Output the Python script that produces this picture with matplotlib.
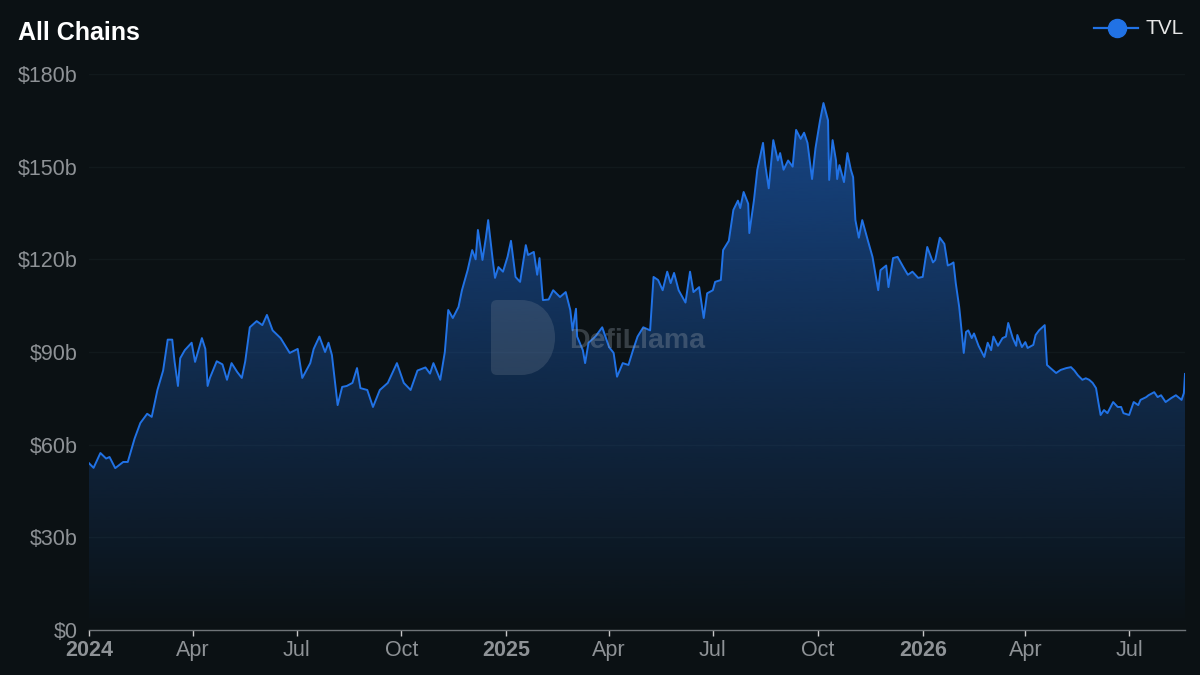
import numpy as np
import pandas as pd
import matplotlib
matplotlib.use('Agg')
import matplotlib.pyplot as plt
import matplotlib.dates as mdates
from matplotlib.path import Path
from matplotlib.patches import PathPatch
from matplotlib.lines import Line2D

# TVL of all chains (billions of USD)
dates = [
    '2024-01-01', '2024-01-05', '2024-01-11', '2024-01-16', '2024-01-19', '2024-01-24', '2024-01-31',
    '2024-02-04', '2024-02-10', '2024-02-15', '2024-02-21', '2024-02-25',
    '2024-03-01', '2024-03-06', '2024-03-10', '2024-03-14', '2024-03-16', '2024-03-19', '2024-03-21', '2024-03-25', '2024-03-31',
    '2024-04-03', '2024-04-09', '2024-04-12', '2024-04-14', '2024-04-16', '2024-04-22', '2024-04-27',
    '2024-05-01', '2024-05-05', '2024-05-10', '2024-05-14', '2024-05-17', '2024-05-21', '2024-05-27',
    '2024-06-01', '2024-06-05', '2024-06-10', '2024-06-17', '2024-06-25',
    '2024-07-02', '2024-07-06', '2024-07-13', '2024-07-16', '2024-07-21', '2024-07-26', '2024-07-29',
    '2024-08-01', '2024-08-06', '2024-08-10', '2024-08-14', '2024-08-19', '2024-08-23', '2024-08-26',
    '2024-09-01', '2024-09-06', '2024-09-12', '2024-09-19', '2024-09-27',
    '2024-10-03', '2024-10-09', '2024-10-15', '2024-10-22', '2024-10-26', '2024-10-29',
    '2024-11-04', '2024-11-08', '2024-11-11', '2024-11-15', '2024-11-20', '2024-11-23', '2024-11-28',
    '2024-12-02', '2024-12-05', '2024-12-07', '2024-12-11', '2024-12-14', '2024-12-16', '2024-12-20', '2024-12-22', '2024-12-25', '2024-12-29',
    '2025-01-02', '2025-01-05', '2025-01-09', '2025-01-13', '2025-01-18', '2025-01-20', '2025-01-25', '2025-01-28', '2025-01-30',
    '2025-02-02', '2025-02-07', '2025-02-11', '2025-02-17', '2025-02-22', '2025-02-26', '2025-02-28',
    '2025-03-03', '2025-03-04', '2025-03-09', '2025-03-11', '2025-03-14', '2025-03-20', '2025-03-26',
    '2025-04-01', '2025-04-05', '2025-04-08', '2025-04-13', '2025-04-18', '2025-04-22', '2025-04-26',
    '2025-05-01', '2025-05-07', '2025-05-10', '2025-05-14', '2025-05-18', '2025-05-22', '2025-05-25', '2025-05-28',
    '2025-06-01', '2025-06-07', '2025-06-11', '2025-06-14', '2025-06-19', '2025-06-23', '2025-06-26',
    '2025-07-01', '2025-07-03', '2025-07-08', '2025-07-10', '2025-07-15', '2025-07-19', '2025-07-23', '2025-07-25', '2025-07-28',
    '2025-08-01', '2025-08-02', '2025-08-06', '2025-08-09', '2025-08-14', '2025-08-16', '2025-08-19', '2025-08-23', '2025-08-27', '2025-08-29',
    '2025-09-01', '2025-09-05', '2025-09-09', '2025-09-12', '2025-09-16', '2025-09-19', '2025-09-22', '2025-09-26', '2025-09-29',
    '2025-10-03', '2025-10-06', '2025-10-10', '2025-10-11', '2025-10-14', '2025-10-17', '2025-10-18', '2025-10-20', '2025-10-24', '2025-10-27', '2025-10-30',
    '2025-11-01', '2025-11-03', '2025-11-06', '2025-11-09', '2025-11-14', '2025-11-18', '2025-11-23', '2025-11-25', '2025-11-30',
    '2025-12-02', '2025-12-06', '2025-12-10', '2025-12-15', '2025-12-19', '2025-12-23', '2025-12-28',
    '2026-01-01', '2026-01-05', '2026-01-10', '2026-01-12', '2026-01-16', '2026-01-20', '2026-01-23', '2026-01-26', '2026-01-28', '2026-01-30',
    '2026-02-02', '2026-02-03', '2026-02-06', '2026-02-08', '2026-02-10', '2026-02-13', '2026-02-15', '2026-02-19', '2026-02-24', '2026-02-27',
    '2026-03-02', '2026-03-04', '2026-03-08', '2026-03-12', '2026-03-15', '2026-03-17', '2026-03-21', '2026-03-24', '2026-03-25', '2026-03-29',
    '2026-04-01', '2026-04-03', '2026-04-08', '2026-04-10', '2026-04-13', '2026-04-16', '2026-04-18', '2026-04-20', '2026-04-23', '2026-04-28',
    '2026-05-02', '2026-05-07', '2026-05-11', '2026-05-14', '2026-05-17', '2026-05-21', '2026-05-24', '2026-05-27', '2026-05-30',
    '2026-06-02', '2026-06-04', '2026-06-06', '2026-06-09', '2026-06-12', '2026-06-17', '2026-06-21', '2026-06-24', '2026-06-26',
    '2026-07-01', '2026-07-05', '2026-07-09', '2026-07-11', '2026-07-16', '2026-07-18', '2026-07-23', '2026-07-26', '2026-07-29',
    '2026-08-02', '2026-08-07', '2026-08-11', '2026-08-16', '2026-08-18', '2026-08-19',
]

tvl = [
    54.0, 52.5, 57.3, 55.5, 56.0, 52.4, 54.4,
    54.4, 62.0, 67.0, 70.0, 69.0,
    77.7, 84.0, 94.0, 94.0, 87.0, 79.0, 88.0, 90.6, 93.0,
    86.8, 94.5, 91.0, 79.0, 81.6, 87.0, 86.0,
    81.0, 86.4, 83.5, 81.6, 87.0, 98.0, 100.0,
    98.7, 102.0, 97.0, 94.5, 89.7,
    91.0, 81.6, 86.4, 91.0, 95.0, 90.0, 93.0,
    89.0, 72.8, 78.7, 79.0, 80.0, 84.8, 78.3,
    77.7, 72.2, 77.7, 80.0, 86.4,
    80.0, 77.7, 84.0, 85.0, 83.0, 86.4,
    81.0, 90.0, 103.6, 101.0, 104.6, 110.0, 116.5,
    123.0, 120.0, 129.5, 119.8, 127.0, 132.7, 119.8, 114.0, 117.5, 116.0,
    120.8, 126.0, 114.3, 112.7, 124.6, 121.4, 122.4, 115.0, 120.4,
    106.8, 107.0, 110.0, 107.8, 109.4, 103.6, 97.0,
    104.0, 95.0, 90.6, 86.4, 93.0, 95.0, 98.0,
    91.6, 89.7, 82.0, 86.4, 85.8, 90.6, 95.0,
    98.0, 97.0, 114.3, 113.3, 110.0, 116.0, 112.3, 115.6,
    110.0, 106.0, 116.0, 109.4, 111.0, 101.0, 109.0,
    110.0, 112.7, 113.3, 123.0, 126.0, 136.0, 139.0, 136.6, 141.8,
    138.0, 128.5, 139.0, 149.0, 157.7, 150.5, 143.0, 158.6, 152.0, 154.4,
    149.0, 152.0, 150.0, 161.9, 159.0, 161.0, 157.7, 146.0, 156.0,
    165.0, 170.6, 165.0, 145.7, 158.6, 152.0, 146.0, 150.5, 145.0, 154.4, 149.0,
    146.6, 132.7, 127.0, 132.7, 126.0, 120.8, 110.0, 116.5, 118.0,
    111.0, 120.4, 120.8, 117.5, 115.0, 116.0, 114.0,
    114.3, 124.0, 119.0, 119.8, 127.0, 125.0, 118.0, 118.5, 119.0, 112.3,
    104.6, 101.0, 89.7, 96.5, 97.0, 94.5, 96.0, 92.0, 88.4, 93.0,
    90.6, 95.0, 92.0, 94.5, 95.0, 99.4, 94.5, 92.0, 95.5, 91.6,
    93.2, 91.3, 92.3, 95.5, 97.0, 98.0, 98.7, 85.8, 84.8, 83.2,
    84.2, 84.8, 85.1, 84.0, 82.5, 81.0, 81.5, 81.0, 80.0,
    78.3, 73.8, 69.6, 71.2, 70.2, 73.8, 72.2, 72.2, 70.2,
    69.6, 73.8, 72.8, 74.5, 75.4, 76.0, 77.0, 75.4, 76.0,
    73.8, 75.1, 76.0, 74.5, 76.7, 82.9,
]

tick_dates = ['2024-01-01', '2024-04-01', '2024-07-01', '2024-10-01',
              '2025-01-01', '2025-04-01', '2025-07-01', '2025-10-01',
              '2026-01-01', '2026-04-01', '2026-07-01']
tick_labels = ['2024', 'Apr', 'Jul', 'Oct', '2025', 'Apr', 'Jul', 'Oct', '2026', 'Apr', 'Jul']
y_ticks = [0, 30, 60, 90, 120, 150, 180]
y_labels = ['$0', '$30b', '$60b', '$90b', '$120b', '$150b', '$180b']

BG = '#0b1114'
BLUE = '#2172e5'
GRAY = '#8e9296'

plt.rcParams['font.family'] = ['Liberation Sans', 'DejaVu Sans']

x = pd.to_datetime(dates)
xnum = mdates.date2num(x)

fig = plt.figure(figsize=(12, 6.75), dpi=100, facecolor=BG)
ax = fig.add_axes([89 / 1200, 45 / 675, 1096 / 1200, 556 / 675])
ax.set_facecolor(BG)

# gradient under the line, clipped to the area
poly = ax.fill_between(x, tvl, 0, facecolor='none', edgecolor='none')
rgb = matplotlib.colors.to_rgb(BLUE)
grad = np.zeros((256, 1, 4))
grad[:, 0, :3] = rgb
grad[:, 0, 3] = np.linspace(0.0, 0.58, 256)
img = ax.imshow(grad, origin='lower', aspect='auto', interpolation='bicubic',
                extent=[xnum[0], xnum[-1], 0, 180], zorder=1)
img.set_clip_path(poly.get_paths()[0], transform=ax.transData)

ax.plot(x, tvl, color=BLUE, lw=1.4, zorder=4)

ax.set_xlim(x[0], x[-1])
ax.set_ylim(0, 180)

# grid and axes
ax.set_yticks(y_ticks)
ax.set_yticklabels(y_labels)
for v in y_ticks[1:]:
    ax.axhline(v, color='#11191c', lw=1, zorder=0)
for s in ['top', 'right', 'left']:
    ax.spines[s].set_visible(False)
ax.spines['bottom'].set_color('#6f7478')
ax.spines['bottom'].set_linewidth(1)
ax.spines['bottom'].set_zorder(5)

ax.tick_params(axis='y', length=0, pad=8, labelsize=15.5, labelcolor=GRAY)
ax.set_xticks(pd.to_datetime(tick_dates))
ax.set_xticklabels(tick_labels)
ax.tick_params(axis='x', length=4, width=1, color='#c8c8c8', pad=3,
               labelsize=15.5, labelcolor=GRAY)
for lab in ax.get_xticklabels():
    if lab.get_text().isdigit():
        lab.set_fontweight('bold')

# watermark
def px(xp, yp):
    return (xp / 1200, 1 - yp / 675)

verts = [px(491, 306), px(491, 300), px(497, 300), px(521, 300),
         px(541, 300), px(555, 316), px(555, 337.5),
         px(555, 359), px(541, 375), px(521, 375),
         px(497, 375), px(491, 375), px(491, 369), px(491, 306)]
codes = [Path.MOVETO, Path.CURVE3, Path.CURVE3, Path.LINETO,
         Path.CURVE4, Path.CURVE4, Path.CURVE4,
         Path.CURVE4, Path.CURVE4, Path.CURVE4,
         Path.LINETO, Path.CURVE3, Path.CURVE3, Path.CLOSEPOLY]
logo = PathPatch(Path(verts, codes), transform=fig.transFigure,
                 facecolor='#8a96a3', edgecolor='none', alpha=0.22, zorder=3)
fig.add_artist(logo)
fig.text(569 / 1200, 1 - 341 / 675, 'DefiLlama', fontsize=20.5, fontweight='bold',
         color='#8a96a3', alpha=0.35, ha='left', va='center', zorder=3)

# title and legend
fig.text(18 / 1200, 1 - 33 / 675, 'All Chains', fontsize=18, fontweight='bold',
         color='white', ha='left', va='center')
fig.add_artist(Line2D([1094 / 1200, 1138 / 1200], [1 - 28 / 675, 1 - 28 / 675],
                      transform=fig.transFigure, color=BLUE, lw=1.6))
fig.add_artist(Line2D([1117 / 1200], [1 - 28 / 675], transform=fig.transFigure,
                      marker='o', markersize=13, color=BLUE, lw=0))
fig.text(1145 / 1200, 1 - 29 / 675, 'TVL', fontsize=15, color='#e6e6e6',
         ha='left', va='center')

fig.savefig('out.png', dpi=100, facecolor=BG)
